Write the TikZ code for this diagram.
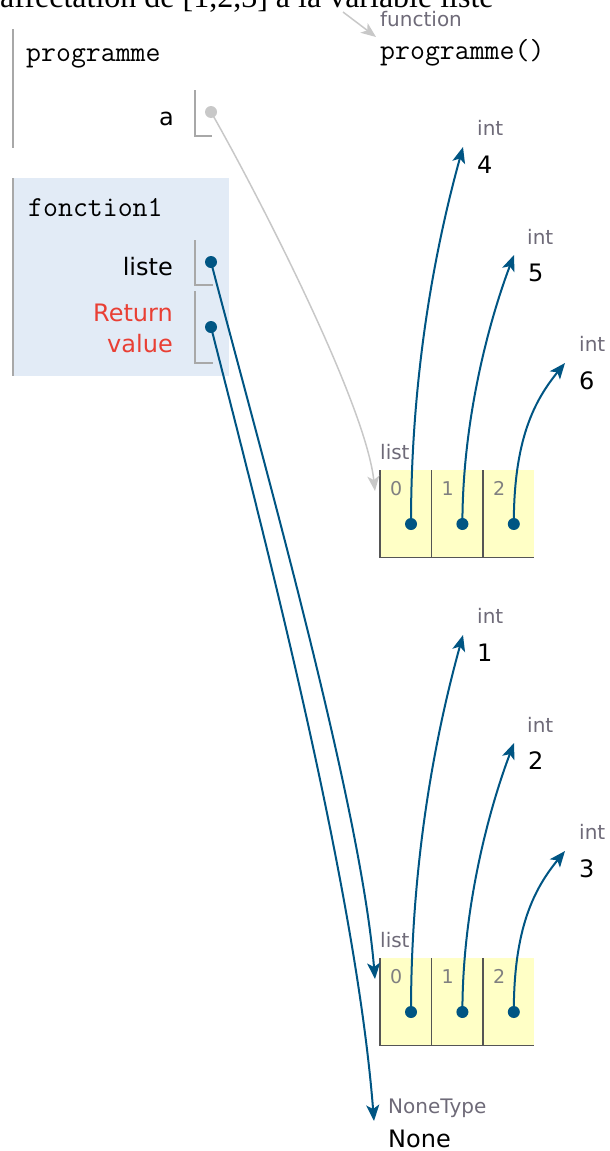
\documentclass[tikz,border=0pt]{standalone}
\usepackage{fontspec}
\setmainfont{DejaVu Sans}
\newfontfamily\titlefont{Liberation Serif}
\usetikzlibrary{arrows.meta, positioning, calc}
\definecolor{PtrBlue}{HTML}{005583}
\definecolor{PtrGray}{HTML}{C8C8C8}
\definecolor{FrameBlue}{HTML}{E2EBF6}
\definecolor{RetRed}{HTML}{E93F34}
\definecolor{TypeGray}{HTML}{6E6A78}
\definecolor{ListYellow}{HTML}{FFFFC6}
\definecolor{EdgeGray}{HTML}{A8A8A8}
\definecolor{CellEdge}{HTML}{555555}
\tikzset{
  varname/.style={anchor=base east, inner sep=0pt, font=\fontsize{24}{31}\selectfont},
  codename/.style={anchor=west, inner sep=0pt, font=\ttfamily\fontsize{29}{32}\selectfont},
  typelbl/.style={anchor=base west, inner sep=0pt, text=TypeGray, font=\fontsize{20}{24}\selectfont},
  vallbl/.style={anchor=base west, inner sep=0pt, font=\fontsize{24}{28}\selectfont},
  idxlbl/.style={anchor=base west, inner sep=0pt, text=gray, font=\fontsize{19}{22}\selectfont},
  framebox/.style={anchor=north west, minimum width=216pt, inner sep=0pt},
  framebar/.style={draw=EdgeGray, line width=2pt},
  bracket/.style={draw=EdgeGray, line width=1.5pt},
  cell/.style={anchor=north west, minimum width=51pt, minimum height=87pt, inner sep=0pt, fill=ListYellow},
  celledge/.style={draw=CellEdge, line width=1.8pt},
  dot/.style={circle, fill=PtrBlue, inner sep=0pt, minimum size=12pt},
  gdot/.style={circle, fill=PtrGray, inner sep=0pt, minimum size=12pt},
  ptr/.style={-{Stealth[length=16pt, width=13pt, inset=4pt]}, line width=2pt, draw=PtrBlue},
  ptrg/.style={-{Stealth[length=15pt, width=12pt, inset=4pt]}, line width=1.5pt, draw=PtrGray},
}

\begin{document}
\begin{tikzpicture}[x=1pt, y=-1pt]
    \clip (0,0) rectangle (610,1151);
    \node[anchor=base west, inner sep=0pt, font=\titlefont\fontsize{32}{36}\selectfont] (title) at (0,8) {affectation de [1,2,3] à la variable liste};

    % frame programme
    \node[framebox, minimum height=119pt] (fprog) at (13,29) {};
    \draw[framebar] (fprog.north west) -- (fprog.south west);
    \node[codename] (nprog) at (26,58) {programme};
    \node[varname] (na) at (174,125) {a};
    \draw[bracket] (195,90) -- (195,136) -- (212,136);
    \node[gdot] (pa) at (211,112) {};

    % function object
    \node[typelbl] (tfun) at (380,27) {function};
    \node[codename] (vfun) at (380,53) {programme()};
    \coordinate (funfrom) at (343,12);
    \coordinate (funin) at ($(tfun.base west)+(-4,10)$);
    \draw[ptrg] (funfrom) -- (funin);

    % frame fonction1
    \node[framebox, fill=FrameBlue, minimum height=198pt] (ffon) at (13,178) {};
    \draw[framebar] (ffon.north west) -- (ffon.south west);
    \node[codename] (nfon) at (28,208) {fonction1};
    \node[varname] (nliste) at (173,275) {liste};
    \node[varname, text=RetRed, anchor=north east, align=right] (nret) at (173,304) {Return\\value};
    \draw[bracket] (195,240) -- (195,285) -- (213,285);
    \draw[bracket] (195,291) -- (195,363) -- (213,363);
    \node[dot] (pliste) at (211,262) {};
    \node[dot] (pret) at (211,327) {};

    % the two lists and their ints
    \foreach \k/\dy/\va/\vb/\vc in {A/0/4/5/6, B/488/1/2/3} {
      \begin{scope}[yshift=-\dy pt]
        \node[typelbl] (\k lbl) at (380,459) {list};
        \node[cell] (\k c0) at (380,470) {};
        \node[cell, right=0pt of \k c0] (\k c1) {};
        \node[cell, right=0pt of \k c1] (\k c2) {};
        \draw[celledge] (\k c0.north west) -- (\k c0.south west) -- (\k c2.south east);
        \draw[celledge] (\k c1.north west) -- (\k c1.south west);
        \draw[celledge] (\k c2.north west) -- (\k c2.south west);
        \coordinate (\k in) at (375,491);
        \node[typelbl] (\k t0) at (477,135) {int};
        \node[vallbl] (\k v0) at (477,173) {\va};
        \node[typelbl] (\k t1) at (527,244) {int};
        \node[vallbl] (\k v1) at (528,281) {\vb};
        \node[typelbl] (\k t2) at (579,351) {int};
        \node[vallbl] (\k v2) at (579,389) {\vc};
        \foreach \i in {0,1,2} {
          \node[idxlbl] (\k i\i) at ($(\k c\i.north west)+(10,25)$) {\i};
          \node[dot] (\k d\i) at ($(\k c\i.north west)+(31,54)$) {};
          \coordinate (\k p\i) at ($(\k v\i.base west)+(-14,-26)$);
        }
        \draw[ptr] (\k d0.center) .. controls +(0,-164) and +(-23,83) .. (\k p0);
        \draw[ptr] (\k d1.center) .. controls +(0,-104) and +(-25,66) .. (\k p1);
        \draw[ptr] (\k d2.center) .. controls +(0,-84) and +(-31,38) .. (\k p2);
      \end{scope}
    }

    % None
    \node[typelbl] (tnone) at (388,1113) {NoneType};
    \node[vallbl] (vnone) at (388,1147) {None};
    \coordinate (nonein) at ($(tnone.base west)+(-14,8)$);

    % pointers from the frames
    \draw[ptrg] (pa.center) .. controls (250,180) and (365,400) .. (Ain);
    \draw[ptr] (pliste.center) .. controls (260,450) and (360,800) .. (Bin);
    \draw[ptr] (pret.center) .. controls (260,520) and (355,880) .. (nonein);
\end{tikzpicture}
\end{document}
